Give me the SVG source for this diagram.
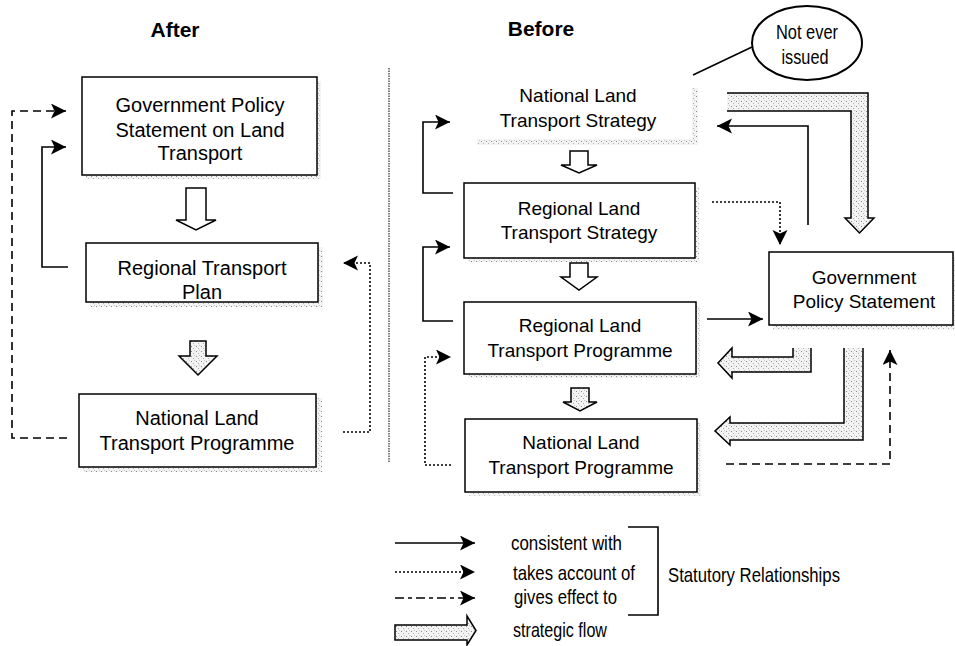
<svg xmlns="http://www.w3.org/2000/svg" width="955" height="646" viewBox="0 0 955 646">
<defs>
<pattern id="spk" width="5" height="5" patternUnits="userSpaceOnUse">
<rect width="5" height="5" fill="#f3f3f3"/>
<rect x="1" y="1" width="1" height="1" fill="#8a8a8a"/>
<rect x="3" y="3" width="1" height="1" fill="#b0b0b0"/>
<rect x="4" y="0" width="1" height="1" fill="#c8c8c8"/>
</pattern>
<marker id="ah" markerUnits="userSpaceOnUse" markerWidth="18" markerHeight="18" refX="15" refY="7.5" orient="auto">
<path d="M0,0 L15,7.5 L0,15 L3.5,7.5 z" fill="#000"/>
</marker>
<style>
.box{fill:#fff;stroke:#000;stroke-width:1.5}
.shd{fill:url(#spk);stroke:none}
.t{font-family:"Liberation Sans",Arial,sans-serif;fill:#000;text-anchor:middle}
.tl{font-size:20px}
.tr{font-size:19px}
.ttl{font-size:21px;font-weight:bold}
.lg{font-family:"Liberation Sans",Arial,sans-serif;font-size:21px;fill:#000}
.c{fill:none;stroke:#000;stroke-width:1.6}
.sol{marker-end:url(#ah)}
.dot{stroke-dasharray:2 2;marker-end:url(#ah)}
.dsh{stroke-dasharray:8 5;marker-end:url(#ah)}
.hw{fill:#fff;stroke:#000;stroke-width:1.5;stroke-linejoin:miter}
.hg{fill:url(#spk);stroke:#000;stroke-width:1.5;stroke-linejoin:miter}
.hf{fill:url(#spk);stroke:none}
.ho{fill:none;stroke:#000;stroke-width:1.5;stroke-linejoin:miter}
</style>
</defs>
<rect width="955" height="646" fill="#fff"/>

<text class="t ttl" x="175" y="37">After</text>
<text class="t ttl" x="541" y="36">Before</text>

<line x1="389" y1="68" x2="389" y2="462" stroke="#555" stroke-width="1.5" stroke-dasharray="1.5 1"/>

<g id="after-gps">
<rect class="shd" x="86" y="81" width="235" height="98"/>
<rect class="box" x="82" y="77" width="235" height="98"/>
<text class="t tl" x="200" y="112">Government Policy</text>
<text class="t tl" x="200" y="137">Statement on Land</text>
<text class="t tl" x="200" y="160">Transport</text>
</g>
<g id="after-rtp">
<rect class="shd" x="90" y="247" width="233" height="60"/>
<rect class="box" x="86" y="243" width="232" height="59"/>
<text class="t tl" x="202" y="275">Regional Transport</text>
<text class="t tl" x="202" y="299">Plan</text>
</g>
<g id="after-nltp">
<rect class="shd" x="83" y="398" width="239" height="74"/>
<rect class="box" x="79" y="394" width="237" height="73"/>
<text class="t tl" x="197" y="425">National Land</text>
<text class="t tl" x="197" y="450">Transport Programme</text>
</g>

<g id="before-nlts">
<rect class="shd" x="692" y="88" width="6" height="56"/>
<rect class="shd" x="477" y="139" width="221" height="6"/>
<text class="t tr" x="578" y="102">National Land</text>
<text class="t tr" x="578" y="127">Transport Strategy</text>
</g>
<g id="not-ever-issued">
<ellipse cx="807" cy="43" rx="55" ry="37" fill="#fff" stroke="#000" stroke-width="2"/>
<text class="t" style="font-size:20px" x="807" y="39" textLength="62" lengthAdjust="spacingAndGlyphs">Not ever</text>
<text class="t" style="font-size:20px" x="805" y="64" textLength="47" lengthAdjust="spacingAndGlyphs">issued</text>
</g>
<g id="before-rlts">
<rect class="shd" x="468" y="187" width="231" height="75"/>
<rect class="box" x="464" y="183" width="231" height="75"/>
<text class="t tr" x="579" y="215">Regional Land</text>
<text class="t tr" x="579" y="239">Transport Strategy</text>
</g>
<g id="before-rltp">
<rect class="shd" x="468" y="306" width="232" height="72"/>
<rect class="box" x="464" y="302" width="232" height="72"/>
<text class="t tr" x="580" y="332">Regional Land</text>
<text class="t tr" x="580" y="357">Transport Programme</text>
</g>
<g id="before-nltp">
<rect class="shd" x="469" y="423" width="232" height="73"/>
<rect class="box" x="465" y="419" width="232" height="73"/>
<text class="t tr" x="581" y="449">National Land</text>
<text class="t tr" x="581" y="474">Transport Programme</text>
</g>
<g id="before-gps">
<rect class="shd" x="773" y="256" width="182" height="74"/>
<rect class="box" x="769" y="252" width="184" height="73"/>
<text class="t tr" x="864" y="284">Government</text>
<text class="t tr" x="864" y="308">Policy Statement</text>
</g>

<g id="strategic-flows">
<path class="hw" d="M186,188 H206 V220 H216 L196,230 L176,220 H186 Z"/>
<path class="hg" d="M190,341 H206 V356 H217 L198,375 L179,356 H190 Z"/>
<path class="hw" d="M570,151 H588 V165 H597 L579,173 L561,165 H570 Z"/>
<path class="hw" d="M570,263 H588 V277 H597 L579,290 L561,277 H570 Z"/>
<path class="hg" d="M571,388 H589 V402 H597 L580,411 L563,402 H571 Z"/>
<path class="hf" d="M727,93 H868 V218 H874 L859.5,233 L845,218 H851 V111 H727 Z"/>
<path class="ho" d="M727,93 H868 V218 H874 L859.5,233 L845,218 H851 V111 H727"/>
<path class="hf" d="M811,348 V372 H732 V378 L718,363 L732,348 V357 H793 V348 Z"/>
<path class="ho" d="M811,348 V372 H732 V378 L718,363 L732,348 V357 H793 V348"/>
<path class="hf" d="M863,348 V440 H730 V445 L715,431 L730,417 V423 H844 V348 Z"/>
<path class="ho" d="M863,348 V440 H730 V445 L715,431 L730,417 V423 H844 V348"/>
</g>

<g id="connectors">
<path class="c dsh" d="M67,438 H12 V111 H66"/>
<path class="c sol" d="M68,267 H42 V147 H66"/>
<path class="c dot" d="M343,432 H370 V263 H343"/>
<path class="c sol" d="M453,193 H423 V122 H450"/>
<path class="c sol" d="M453,321 H423 V247 H450"/>
<path class="c dot" d="M451,465 H425 V357 H451"/>
<path class="c dot" d="M712,202 H780 V245"/>
<path class="c sol" d="M808,225 V126 H717"/>
<path class="c sol" d="M707,319 H763"/>
<path class="c dsh" d="M726,464 H890 V350"/>
<path class="c" d="M752,47 L693,75"/>
</g>

<g id="legend">
<path class="c sol" d="M395,543 H475"/>
<path class="c dot" d="M395,572 H475"/>
<path class="c" style="stroke-dasharray:9 4 4 4;marker-end:url(#ah)" d="M395,598 H475"/>
<path class="hg" d="M395,625 H467 V616 L476,630.5 L467,645 V640 H395 Z"/>
<text class="lg" x="511" y="550" textLength="111" lengthAdjust="spacingAndGlyphs">consistent with</text>
<text class="lg" x="513" y="580" textLength="122" lengthAdjust="spacingAndGlyphs">takes account of</text>
<text class="lg" x="514" y="604" textLength="103" lengthAdjust="spacingAndGlyphs">gives effect to</text>
<text class="lg" x="513" y="637" textLength="94" lengthAdjust="spacingAndGlyphs">strategic flow</text>
<path class="c" d="M628,527 H658 V615 H628"/>
<text class="lg" x="668" y="582" textLength="172" lengthAdjust="spacingAndGlyphs">Statutory Relationships</text>
</g>
</svg>
